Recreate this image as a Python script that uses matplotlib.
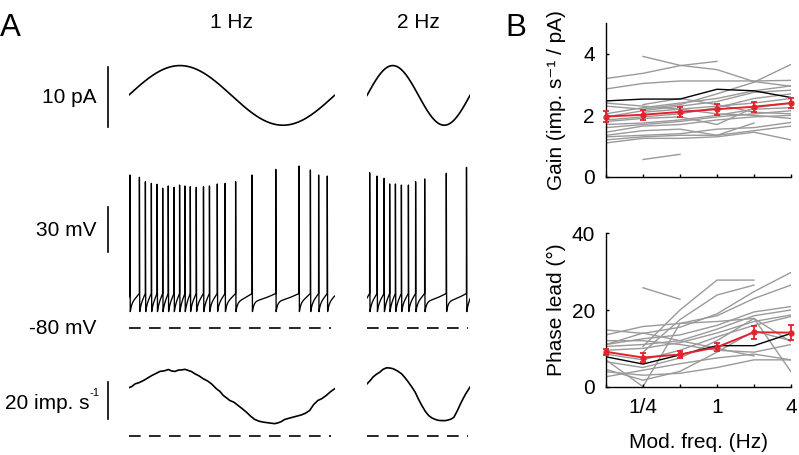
import numpy as np
import matplotlib
matplotlib.use("Agg")
import matplotlib.pyplot as plt

plt.rcParams['font.family'] = ['Liberation Sans', 'DejaVu Sans']
plt.rcParams['mathtext.default'] = 'regular'

# ------------------------------------------------------------------ data
# Panel A: stimulus
stim_freqs = [1.0, 2.0]          # Hz
stim_amp = 5.0                    # pA (sine amplitude)

# Panel A: spike times (s) and spike peak voltages (mV)
spk_t_1hz = [0.007, 0.053, 0.082, 0.111, 0.139, 0.166, 0.193, 0.221, 0.248,
             0.274, 0.300, 0.329, 0.364, 0.393, 0.431, 0.469, 0.520, 0.600,
             0.715, 0.828, 0.883, 0.923, 0.965]
spk_v_1hz = [20.8, 19.3, 16.4, 15.3, 14.7, 12.1, 13.6, 12.7, 14.2, 13.6, 13.1,
             12.7, 13.1, 13.6, 14.9, 15.3, 16.4, 20.8, 24.5, 26.7, 24.1, 20.8, 20.1]
spk_t_2hz = [0.013, 0.049, 0.083, 0.110, 0.138, 0.167, 0.201, 0.236, 0.280,
             0.385, 0.483]
spk_v_2hz = [22.3, 20.1, 18.6, 14.9, 14.9, 14.2, 14.2, 16.4, 18.2, 21.9, 25.8]

# Panel A: firing rate (imp/s) vs time (s)
rate_t_1hz = [0.000, 0.016, 0.032, 0.052, 0.073, 0.093, 0.113, 0.133, 0.153,
              0.174, 0.194, 0.210, 0.226, 0.242, 0.258, 0.274, 0.290, 0.306,
              0.323, 0.343, 0.363, 0.383, 0.403, 0.427, 0.444, 0.460, 0.476,
              0.492, 0.512, 0.532, 0.552, 0.573, 0.593, 0.613, 0.633, 0.653,
              0.674, 0.694, 0.710, 0.726, 0.742, 0.758, 0.778, 0.798, 0.819,
              0.839, 0.859, 0.879, 0.899, 0.919, 0.940, 0.960, 0.980, 1.000]
rate_1hz = [25.2, 25.9, 27.3, 28.0, 29.1, 30.4, 31.7, 32.8, 33.9, 34.2, 34.9,
            34.1, 33.9, 34.6, 34.7, 35.0, 34.4, 33.8, 32.6, 31.5, 30.0, 28.9,
            27.3, 24.7, 23.3, 21.2, 19.9, 18.5, 17.6, 15.9, 14.2, 12.3, 10.2,
            8.5, 7.6, 7.1, 6.8, 6.5, 6.3, 6.7, 7.4, 8.5, 9.1, 9.7, 10.3, 10.9,
            11.8, 13.2, 16.4, 18.5, 19.6, 21.2, 23.1, 24.7]
rate_t_2hz = [0.000, 0.015, 0.029, 0.046, 0.062, 0.078, 0.095, 0.111, 0.127,
              0.147, 0.168, 0.185, 0.201, 0.218, 0.234, 0.250, 0.266, 0.283,
              0.299, 0.315, 0.332, 0.348, 0.364, 0.381, 0.397, 0.410, 0.422,
              0.438, 0.454, 0.467, 0.479, 0.490, 0.500]
rate_2hz = [27.3, 29.0, 30.9, 32.4, 33.5, 35.0, 35.8, 35.7, 35.3, 34.2, 32.6,
            30.5, 28.2, 25.6, 22.9, 19.2, 15.9, 12.8, 10.6, 9.3, 8.5, 8.0, 7.9,
            7.9, 8.3, 8.8, 9.7, 13.0, 16.8, 19.6, 22.0, 23.9, 25.6]

# Panel B
mod_freqs = [1/8, 1/4, 1/2, 1, 2, 4]
xtick_labels = ['', '1/4', '', '1', '', '4']
nan = np.nan
gain_cells = [
    [nan, 3.92, 3.63, 3.49, 3.10, 2.95],
    [3.20, 3.37, 3.62, 3.76, nan, nan],
    [2.86, 3.04, 3.12, 3.12, 3.12, 3.14],
    [2.30, 2.20, 2.35, 2.70, 3.08, 3.66],
    [2.05, 2.25, 2.40, 2.55, 2.80, 2.96],
    [1.95, 2.15, 2.30, 2.45, 2.75, 2.82],
    [1.85, 1.95, 2.05, 2.25, 2.55, 2.70],
    [nan, 2.35, 2.55, 2.35, 2.10, 2.05],
    [1.80, 1.90, 1.95, 1.70, 2.25, 2.40],
    [1.70, 1.75, 1.85, 2.00, 2.20, 2.25],
    [1.60, 1.70, 1.80, 1.95, 2.05, 2.15],
    [1.45, 1.65, 1.70, 1.85, 1.95, 2.00],
    [1.35, 1.50, 1.55, 1.35, 1.75, nan],
    [1.30, 1.35, 1.40, 1.55, 1.60, 1.77],
    [1.20, 1.30, 1.35, 1.35, 1.50, 1.65],
    [1.10, 1.25, 1.25, 1.30, 1.45, 1.20],
    [nan, 0.56, 0.73, nan, nan, nan],
    [nan, 2.10, 2.20, 2.30, 2.40, 2.55],
    [2.40, 2.30, 2.20, 2.05, 2.00, 1.90],
]
gain_example = [2.47, 2.53, 2.53, 2.85, 2.80, 2.58]
gain_mean = [1.96, 2.02, 2.11, 2.20, 2.28, 2.40]
gain_sem = [0.17, 0.16, 0.16, 0.18, 0.16, 0.17]

phase_cells = [
    [nan, 25.8, 22.8, nan, nan, nan],
    [nan, 10.5, 20.0, 27.8, 27.8, nan],
    [nan, 9.0, 17.5, 23.9, 26.5, nan],
    [14.8, 13.9, 15.5, 19.0, 24.8, 29.8],
    [13.5, 15.7, 16.5, 18.5, 23.0, 26.5],
    [11.0, 12.5, 13.5, 16.0, 19.5, 20.9],
    [10.5, 11.0, 12.0, 15.0, 18.5, 20.0],
    [9.5, 10.0, 11.5, 14.0, 17.0, 18.7],
    [8.5, 7.0, 9.5, 13.0, 16.0, 18.3],
    [7.0, 0.0, 16.5, 17.0, 17.8, 11.7],
    [6.5, 5.0, 7.5, 12.0, 17.8, 3.9],
    [4.5, 1.7, 4.0, 9.0, 14.5, 12.0],
    [3.9, 3.0, 3.5, 5.0, 7.0, 7.0],
    [2.6, 4.3, 6.0, 7.5, 8.5, 7.0],
    [11.0, 14.0, 12.0, 10.0, 8.0, nan],
    [12.0, 12.0, 11.0, 9.5, 9.0, 11.0],
]
phase_example = [7.8, 5.9, 8.3, 10.7, 10.7, 13.9]
phase_mean = [9.1, 7.6, 8.4, 10.3, 14.2, 14.1]
phase_sem = [0.8, 1.1, 0.9, 1.1, 1.7, 1.9]

# ------------------------------------------------------------------ helpers
W, H = 799, 455
fig = plt.figure(figsize=(W / 100, H / 100), dpi=100)
FS = 15
RED = '#e2232c'
GRAY = '#9a9a9a'


def px_axes(x0, y0, x1, y1):
    return fig.add_axes([x0 / W, 1 - y1 / H, (x1 - x0) / W, (y1 - y0) / H])


def vm_trace(spk_t, spk_v, T, dt=2e-4, v_th=-57.0, v_ahp=-69.0, v_pl=-62.0,
             tau=0.008, t_up=0.0004, t_down=0.0015, v0=-60.0):
    t = np.arange(0, T + dt / 2, dt)
    v = np.empty_like(t)
    spk_t = np.asarray(spk_t)
    for i, ti in enumerate(t):
        k = np.searchsorted(spk_t, ti, side='right') - 1  # last spike <= ti
        nxt = k + 1
        if nxt < len(spk_t) and spk_t[nxt] - ti <= t_up:
            frac = 1 - (spk_t[nxt] - ti) / t_up
            v[i] = v_th + frac * (spk_v[nxt] - v_th)
            continue
        if k < 0:
            s_end = spk_t[0] - t_up
            v[i] = v0 + (v_th - v0) * ti / s_end
            continue
        s = ti - spk_t[k]
        if s <= t_down:
            v[i] = spk_v[k] + (v_ahp - spk_v[k]) * s / t_down
            continue
        s -= t_down
        if nxt < len(spk_t):
            S = spk_t[nxt] - t_up - spk_t[k] - t_down
        else:
            S = T + 0.01 - spk_t[k] - t_down
        base = v_ahp + (v_pl - v_ahp) * (1 - np.exp(-s / tau))
        base_end = v_ahp + (v_pl - v_ahp) * (1 - np.exp(-S / tau))
        v[i] = base + (v_th - base_end) * (s / S) ** 1.5
    return t, v


lw_tr = 1.2
dash = (0, (7.0, 5.0))

cols = [
    (128.5, 334.5, 1.0 / stim_freqs[0]),
    (367.0, 470.0, 1.0 / stim_freqs[1]),
]
spk_data = [(spk_t_1hz, spk_v_1hz), (spk_t_2hz, spk_v_2hz)]
rate_data = [(rate_t_1hz, rate_1hz), (rate_t_2hz, rate_2hz)]

for ci, ((x0, x1, T), f) in enumerate(zip(cols, stim_freqs)):
    # current row
    axc = px_axes(x0, 59.6, x1, 131.2)
    axc.set_xlim(0, T)
    axc.set_ylim(-6, 6)
    axc.axis('off')
    tt = np.linspace(0, T, 400)
    axc.plot(tt, stim_amp * np.sin(2 * np.pi * f * tt), color='black', lw=lw_tr)

    # voltage row
    axv = px_axes(x0, 161.0, x1, 336.1)
    axv.set_xlim(0, T)
    axv.set_ylim(-85, 30)
    axv.axis('off')
    tv, vv = vm_trace(spk_data[ci][0], spk_data[ci][1], T)
    axv.plot(tv, vv, color='black', lw=0.95)
    axv.plot([0, T * 0.985], [-80, -80], color='black', lw=1.2, linestyle=dash)

    # rate row
    axr = px_axes(x0, 350.4, x1, 445.0)
    axr.set_xlim(0, T)
    axr.set_ylim(-5, 45)
    axr.axis('off')
    axr.plot(rate_data[ci][0], rate_data[ci][1], color='black', lw=lw_tr)
    axr.plot([0, T * 0.985], [0, 0], color='black', lw=1.2, linestyle=dash)

    if ci == 0:
        xb = -0.1
        xt = -0.155
        axc.plot([xb, xb], [-5.25, 4.75], color='black', lw=1.2, clip_on=False)
        axc.text(xt, -0.3, '10 pA', ha='right', va='center', fontsize=FS,
                 clip_on=False)
        axv.plot([xb, xb], [-30, 0], color='black', lw=1.2, clip_on=False)
        axv.text(xt, -15.5, '30 mV', ha='right', va='center', fontsize=FS,
                 clip_on=False)
        axv.text(xt, -80, '-80 mV', ha='right', va='center', fontsize=FS,
                 clip_on=False)
        axr.plot([xb, xb], [8.5, 28.5], color='black', lw=1.2, clip_on=False)
        xt_main = -0.19
        axr.text(xt_main, 17.0, '20 imp. s', ha='right', va='center',
                 fontsize=FS, clip_on=False)
        axr.annotate('-1', xy=(xt_main, 17.0), xytext=(0.3, 4.0),
                     textcoords='offset points', ha='left', va='bottom',
                     fontsize=8, annotation_clip=False)

    fig.text((x0 + x1) / 2 / W, 1 - 27.5 / H, '%d Hz' % f, ha='center',
             va='baseline', fontsize=FS)

fig.text(0.0, 1 - 36.2 / H, 'A', ha='left', va='baseline', fontsize=22.5)
fig.text(505.5 / W, 1 - 36.2 / H, 'B', ha='left', va='baseline', fontsize=22.5)

# ------------------------------------------------------------------ panel B
axg = px_axes(606, 23.3, 791, 176.7)
axp = px_axes(606, 233.3, 791, 386.7)

for ax, cells, ex, mean, sem, ylim, yt in [
        (axg, gain_cells, gain_example, gain_mean, gain_sem, (0, 5), [0, 2, 4]),
        (axp, phase_cells, phase_example, phase_mean, phase_sem, (0, 40), [0, 20, 40])]:
    for c in cells:
        ax.plot(mod_freqs, c, color=GRAY, lw=1.0, zorder=1)
    ax.plot(mod_freqs, ex, color='black', lw=1.0, zorder=2)
    ax.errorbar(mod_freqs, mean, yerr=sem, color=RED, lw=1.4, marker='o',
                ms=3.5, capsize=2.5, elinewidth=1.3, capthick=1.3,
                clip_on=False, zorder=5)
    ax.set_xscale('log', base=2)
    ax.set_xlim(1 / 8, 4)
    ax.set_ylim(*ylim)
    ax.set_yticks(yt)
    ax.set_xticks(mod_freqs)
    ax.minorticks_off()
    ax.spines['top'].set_visible(False)
    ax.spines['right'].set_visible(False)
    for s in ('left', 'bottom'):
        ax.spines[s].set_linewidth(1.0)
    ax.tick_params(direction='in', length=2.5, width=1.0, labelsize=FS, pad=8)

axg.set_xticklabels([])
axp.set_xticklabels(xtick_labels)
axg.set_ylabel('Gain (imp. s\u207b\u00b9 / pA)', fontsize=FS)
axp.set_ylabel('Phase lead (°)', fontsize=FS)
axg.yaxis.set_label_coords(-0.215, 0.5)
axp.yaxis.set_label_coords(-0.215, 0.5)
axp.set_xlabel('Mod. freq. (Hz)', fontsize=FS)
axp.xaxis.set_label_coords(0.5, -0.305)

fig.savefig('out.png', dpi=100)
